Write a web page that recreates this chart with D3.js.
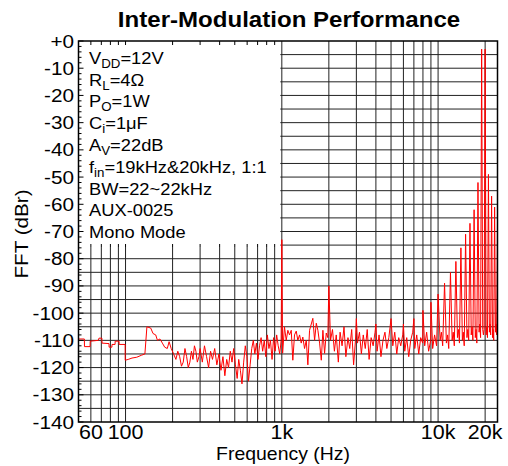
<!DOCTYPE html>
<html><head><meta charset="utf-8">
<script src="https://cdn.jsdelivr.net/npm/d3@7"></script>
<style>body{margin:0;background:#fff}svg{display:block}text{font-family:"Liberation Sans",Arial,sans-serif;fill:#000}</style>
</head><body><svg width="508" height="466"></svg>
<script>
// ---- data ----
const freq = [
 50,54.5,54.6,59.3,59.4,67,67.6,70.6,70.7,78.4,78.5,81.8,81.9,85.7,85.8,90.9,91,99.4,99.5,104,110,118,126,133,137,145,150,156,160,166,172,178,185,190,196,203,210,216,222,228,234,240,246,252,258,264,270,276,282,288,295,
 300,310,320,330,340,350,360,372,384,396,408,420,432,444,456,468,480,492,505,518,530,543,556,570,584,598,612,627,642,657,672,688,704,720,737,754,772,790,808,827,846,866,886,906,927,948,970,990,1000,1012,
 1040,1067,1093,1120,1149,1176,1206,1237,1266,1299,1331,1363,1398,1434,1468,1505,1580,1621,1662,1702,1745,1789,1832,1878,1925,1970,2000,
 2050,2110,2170,2230,2300,2360,2430,2500,2570,2650,2720,2800,2880,2960,3000,3050,3140,3230,3320,3420,3520,3620,3730,3840,3950,4000,4070,4190,4310,4440,4570,4700,4840,5000,5130,5280,5440,5600,5770,5940,6000,6120,6300,6490,6680,6880,7000,7090,7300,7520,7740,7970,8000,8210,8450,8700,8960,9000,9230,9500,9780,
 10000,10300,10500,10700,11000,11300,11500,11700,12000,12300,12500,12700,13000,13300,13500,13700,14000,14300,14500,14700,15000,15300,15500,15700,16000,16300,16500,16700,17000,17300,17500,17700,18000,18300,18500,18700,19000,19300,19500,19700,20000,20300,20500,20700,21000,21300,21500,21700,22000,22300,22500,22700,23000,23300,23500,23700,24000
];
const level = [
 -109.5,-109.5,-112.3,-112.3,-110.3,-110,-109.2,-109.2,-111,-111.2,-112.5,-112.5,-111.5,-111.5,-110.3,-110.3,-111.5,-111.5,-117.3,-117,-116.5,-116.2,-115.5,-115,-105,-105.5,-107.5,-108,-110,-109.5,-111,-112.5,-113,-110.5,-113,-115,-117,-114,-116,-119.5,-118,-113,-116,-120,-118,-114,-117,-112,-114,-118,-116,
 -113,-118,-112,-116,-120,-114,-117,-113,-119,-115,-121,-116,-123,-117,-120,-114,-118,-113,-119,-124,-117,-121,-126,-118,-112,-116,-125,-119,-113,-110,-115,-111,-117,-112,-109,-114,-110,-116,-108,-113,-110,-117,-109,-114,-108,-112,-115,-110,-73,-114.7,
 -105,-110,-106.3,-108,-106.3,-117.3,-108,-106.6,-110,-108,-111,-108.8,-113,-110,-119,-106.3,-101.9,-110,-103.7,-106.3,-111,-117.3,-106.3,-114.8,-107.3,-109,-90,
 -110,-106,-114,-108,-118,-107,-112,-105,-116,-109,-113,-106,-119,-110,-102,-111,-107,-115,-108,-113,-106,-117,-109,-112,-107,-104,-114,-108,-116,-110,-107,-113,-109,-102,-112,-107,-115,-109,-112,-108,-104,-114,-109,-116,-110,-107,-102,-113,-108,-115,-109,-111,-99,-112,-107,-114,-110,-96,-113,-108,-112,
 -93,-110,-107,-112,-89,-111,-108,-113,-85,-110,-107,-112,-81,-109,-106,-111,-76,-110,-107,-112,-71,-109,-106,-110,-67,-108,-105,-110,-62,-109,-106,-111,-52,-107,-104,-109,-3,-106,-108,-106,-3,-108,-105,-109,-49,-107,-104,-108,-57,-109,-106,-110,-61,-107,-104,-108,-66
];
const yTicks = [0,-10,-20,-30,-40,-50,-60,-70,-80,-90,-100,-110,-120,-130,-140];
const yTickLabels = ["+0","-10","-20","-30","-40","-50","-60","-70","-80","-90","-100","-110","-120","-130","-140"];
const xTicks = [60,100,1000,10000,20000];
const xTickLabels = ["60","100","1k","10k","20k"];
const gridFreqs = [60,70,80,90,100,200,300,400,500,600,700,800,900,1000,2000,3000,4000,5000,6000,7000,8000,9000,10000,20000];
const gridLevels = [-5,-10,-15,-20,-25,-30,-35,-40,-45,-50,-55,-60,-65,-70,-75,-80,-85,-90,-95,-100,-105,-110,-115,-120,-125,-130,-135];
const notes = [["V","DD","=12V"],["R","L","=4Ω"],["P","O","=1W"],["C","i","=1μF"],["A","V","=22dB"],["f","in","=19kHz&20kHz, 1:1"],["BW=22~22kHz","",""],["AUX-0025","",""],["Mono Mode","",""]];
const title = "Inter-Modulation Performance";
const xTitle = "Frequency (Hz)";
const yTitle = "FFT (dBr)";

// ---- chart ----
const svg = d3.select("svg");
const L = 78.5, R = 497.5, T = 41, B = 422;
const x = d3.scaleLog().domain([50, 24000]).range([L, R]);
const y = d3.scaleLinear().domain([0, -140]).range([T, B]);

function stretchText(g, px, py, str, size, anchor, sx, weight) {
  const gg = g.append("g").attr("transform", `translate(${px},${py}) scale(${sx},1)`);
  return gg.append("text").attr("text-anchor", anchor).style("font-size", size + "px")
    .style("font-weight", weight || "normal").text(str);
}

const grid = svg.append("g");
grid.selectAll(".v").data(gridFreqs).join("line")
  .attr("x1", d => x(d)).attr("x2", d => x(d)).attr("y1", T).attr("y2", B)
  .attr("stroke", "#222").attr("stroke-width", 1);
grid.selectAll(".h").data(gridLevels).join("line")
  .attr("x1", L).attr("x2", R).attr("y1", d => y(d)).attr("y2", d => y(d))
  .attr("stroke", "#222").attr("stroke-width", 1);

// legend box (covers grid)
const boxR = x(1000) - 1.5, boxB = 247;
svg.append("rect").attr("x", L).attr("y", T).attr("width", boxR - L).attr("height", boxB - T).attr("fill", "#fff");

// trace
const line = d3.line().x((d, i) => x(freq[i])).y((d, i) => y(level[i]));
svg.append("defs").append("clipPath").attr("id", "clip").append("rect")
  .attr("x", L).attr("y", T).attr("width", R - L).attr("height", B - T);
svg.append("path").datum(level).attr("d", line).attr("fill", "none")
  .attr("stroke", "#ff0000").attr("stroke-width", 1).attr("clip-path", "url(#clip)");

// inner ticks: left axis every 2 dB, top axis at grid freqs
const ticksG = svg.append("g").attr("stroke", "#000").attr("stroke-width", 1);
ticksG.selectAll(".lt").data(d3.range(0, -141, -2)).join("line")
  .attr("x1", L).attr("x2", d => L + (d % 10 === 0 ? 5 : 3))
  .attr("y1", d => y(d)).attr("y2", d => y(d));
ticksG.selectAll(".tt").data(gridFreqs.filter(f => f < 1000)).join("line")
  .attr("x1", d => x(d)).attr("x2", d => x(d)).attr("y1", T).attr("y2", T + 4);
ticksG.selectAll(".bt").data(gridFreqs.filter(f => f < 1000)).join("line")
  .attr("x1", d => x(d)).attr("x2", d => x(d)).attr("y1", boxB - 3).attr("y2", boxB);

// frame
svg.append("rect").attr("x", L).attr("y", T).attr("width", R - L).attr("height", B - T)
  .attr("fill", "none").attr("stroke", "#000").attr("stroke-width", 1.5);

// notes
const ng = svg.append("g");
notes.forEach((n, i) => {
  const g = ng.append("g").attr("transform", `translate(89,${63.7 + i * 21.8}) scale(1.11,1)`);
  const t = g.append("text").style("font-size", "16.5px");
  t.append("tspan").text(n[0]);
  if (n[1]) {
    t.append("tspan").attr("dy", 4).style("font-size", "12px").text(n[1]);
    t.append("tspan").attr("dy", -4).text(n[2]);
  }
});

// y tick labels
yTicks.forEach((v, i) => {
  stretchText(svg, 74, y(v) + 6.5, yTickLabels[i], 18.5, "end", 1.12);
});
// x tick labels
xTicks.forEach((v, i) => {
  stretchText(svg, x(v), 439, xTickLabels[i], 19.5, "middle", 1.1);
});

// titles
stretchText(svg, 289, 27, title, 21.5, "middle", 1.12, "bold");
stretchText(svg, 283, 459.5, xTitle, 18, "middle", 1.08);
const yg = svg.append("g").attr("transform", "translate(28,234) rotate(-90) scale(1.15,1)");
yg.append("text").attr("text-anchor", "middle").style("font-size", "18px").text(yTitle);
</script></body></html>
